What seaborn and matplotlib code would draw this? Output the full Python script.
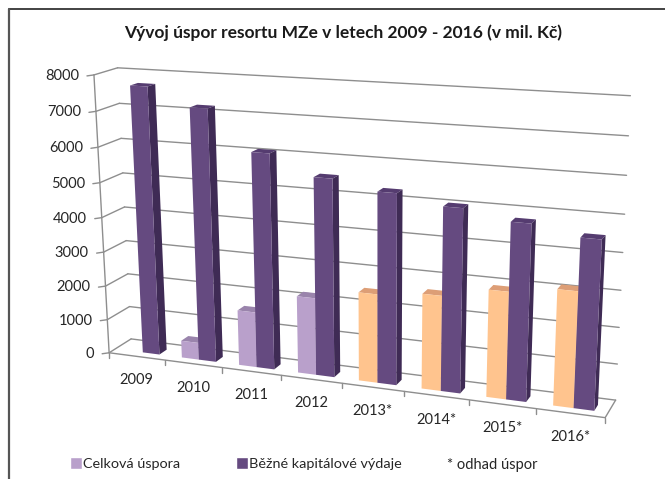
import numpy as np
import pandas as pd
import matplotlib
matplotlib.use("Agg")
import matplotlib.pyplot as plt
import matplotlib.transforms as mtrans
from matplotlib.lines import Line2D
from matplotlib.patches import Polygon
import seaborn as sns

# data
years = ["2009", "2010", "2011", "2012", "2013*", "2014*", "2015*", "2016*"]
uspora = [0, 500, 1600, 2200, 2500, 2650, 2950, 3150]
vydaje = [7700, 7200, 6100, 5550, 5300, 5050, 4800, 4550]
yticks = [0, 1000, 2000, 3000, 4000, 5000, 6000, 7000, 8000]
series_names = ["Celková úspora", "Běžné kapitálové výdaje"]

W, H = 665, 479
YMAX = 8000
Z_FRONT, Z_BACK = 0.28, 0.62  # depth of the bars between front axis and back wall

# (u, v, z) axes fraction + depth -> pixel in the picture, used to fit the 3d view
calib = [
    (0, 0, 0, 110, 353), (0, 1, 0, 95, 75), (0, .5, 0, 100, 217), (1, 0, 0, 605, 418),
    (0, 0, 1, 131, 339), (0, 1, 1, 117, 68), (0, .5, 1, 125, 207),
    (1, 0, 1, 616, 400), (1, 1, 1, 631, 96), (1, .5, 1, 622, 252),
]


def fit_camera(points):
    rows, rhs = [], []
    for u, v, z, px, py in points:
        rows.append([u, v, z, 1, 0, 0, 0, 0, -px * u, -px * v, -px * z])
        rhs.append(px)
        rows.append([0, 0, 0, 0, u, v, z, 1, -py * u, -py * v, -py * z])
        rhs.append(py)
    sol = np.linalg.lstsq(np.array(rows, float), np.array(rhs, float), rcond=None)[0]
    return np.append(sol, 1).reshape(3, 4)


CAM = fit_camera(calib)


def project(u, v, z):
    q = CAM @ np.array([u, v, z, 1.0])
    return q[0] / q[2], H - q[1] / q[2]


class DepthPlane(mtrans.Transform):
    # axes fraction -> display pixels, on the plane at depth z
    input_dims = 2
    output_dims = 2

    def __init__(self, z):
        super().__init__()
        self.z = z

    def transform_non_affine(self, values):
        values = np.asarray(values, float)
        n = len(values)
        q = np.column_stack([values, np.full(n, self.z), np.ones(n)]) @ CAM.T
        return np.column_stack([q[:, 0] / q[:, 2], H - q[:, 1] / q[:, 2]])


df = pd.DataFrame({
    "rok": years * 2,
    "hodnota": uspora + vydaje,
    "rada": [series_names[0]] * len(years) + [series_names[1]] * len(years),
})

sns.set_theme(style="white")
plt.rcParams["font.family"] = ["Lato", "DejaVu Sans"]
TEXT = "#262626"
GRID = "#8e8e8e"

fig = plt.figure(figsize=(W / 100, H / 100), dpi=100)
ax = fig.add_axes([0, 0, 1, 1])
sns.barplot(data=df, x="rok", y="hodnota", hue="rada", width=0.6, gap=0, saturation=1,
            palette=["#B9A0CB", "#654A80"], ax=ax)
ax.set_xlim(-0.5, len(years) - 0.5)
ax.set_ylim(0, YMAX)
ax.axis("off")


def plane(z):
    return ax.transData + ax.transAxes.inverted() + DepthPlane(z)


def px_line(p0, p1, color=GRID, lw=1.0):
    ax.plot([p0[0], p1[0]], [p0[1], p1[1]], color=color, lw=lw, clip_on=False,
            transform=mtrans.IdentityTransform(), zorder=1)


# walls and floor
for v in yticks:
    f = v / YMAX
    ax.plot([-0.5, len(years) - 0.5], [v, v], color=GRID, lw=1.0, clip_on=False,
            transform=plane(1.0), zorder=1)
    front = project(0, f, 0)
    px_line(front, project(0, f, 1))
    px_line(front, (front[0] - 7, front[1] - 1))
    ax.text(front[0] - 15, front[1] - 1, str(v), ha="right", va="center", fontsize=10.5, color=TEXT,
            transform=mtrans.IdentityTransform(), clip_on=False)
px_line(project(0, 0, 0), project(0, 1, 0))
px_line(project(0, 0, 0), project(1, 0, 0))
px_line(project(1, 0, 0), project(1, 0, 1))
for i in range(len(years) + 1):
    p = project(i / len(years), 0, 0)
    px_line(p, (p[0], p[1] - 5))
for i, lab in enumerate(years):
    p = project((i + 0.5) / len(years), 0, 0)
    ax.text(p[0], p[1] - 24, lab, ha="center", va="center", fontsize=10.5, color=TEXT,
            transform=mtrans.IdentityTransform(), clip_on=False)

# bars: seaborn draws the fronts, sides and tops follow from the same rectangles
light = ("#B9A0CB", "#9A84AC")
orange = ("#FFC48E", "#DD9E76")
purple = ("#654A80", "#553C70")
SIDE = "#3F2B55"
for j, cont in enumerate(ax.containers):
    for i, bar in enumerate(cont.patches):
        x0, x1 = bar.get_x(), bar.get_x() + bar.get_width()
        h = bar.get_height()
        if j == 0:
            face, top = light if i < 4 else orange
        else:
            face, top = purple
        order = 3 + 2 * (i * 2 + j)
        bar.set_facecolor(face)
        bar.set_edgecolor("none")
        bar.set_transform(plane(Z_FRONT))
        bar.set_clip_on(False)
        bar.set_zorder(order + 1)
        if h <= 0:
            continue
        tf, tb = plane(Z_FRONT), plane(Z_BACK)
        a, b = tf.transform([[x0, h], [x1, h]])
        c, d = tb.transform([[x0, h], [x1, h]])
        e = tf.transform([[x1, 0]])[0]
        g = tb.transform([[x1, 0]])[0]
        ident = mtrans.IdentityTransform()
        ax.add_patch(Polygon([a, b, d, c], closed=True, fc=top, ec="none", transform=ident,
                             clip_on=False, zorder=order))
        ax.add_patch(Polygon([b, d, g, e], closed=True, fc=SIDE if j else top, ec="none",
                             transform=ident, clip_on=False, zorder=order))

sns.move_legend(ax, "lower left", bbox_to_anchor=(70 / W, 1 - 470 / H), ncol=2, frameon=False,
                title=None, fontsize=10.4, handlelength=0.8, handleheight=0.8, handletextpad=0.1,
                columnspacing=3.9, labelcolor=TEXT, borderpad=0, borderaxespad=0)

fig.text(447 / W, 1 - 465 / H, "* odhad úspor", fontsize=10.5, color=TEXT, va="center")
fig.text(343.5 / W, 1 - 33 / H, "Vývoj úspor resortu MZe v letech 2009 - 2016 (v mil. Kč)",
         fontsize=12.5, fontweight="bold", color="#1a1a1a", ha="center", va="center")

# frame of the screenshot
fig.add_artist(Line2D([9 / W, 1], [1 - 9 / H, 1 - 9 / H], color="#222222", lw=1.2))
fig.add_artist(Line2D([9 / W, 9 / W], [0, 1 - 9 / H], color="#555555", lw=1.6))

fig.savefig("out.png", dpi=100)
